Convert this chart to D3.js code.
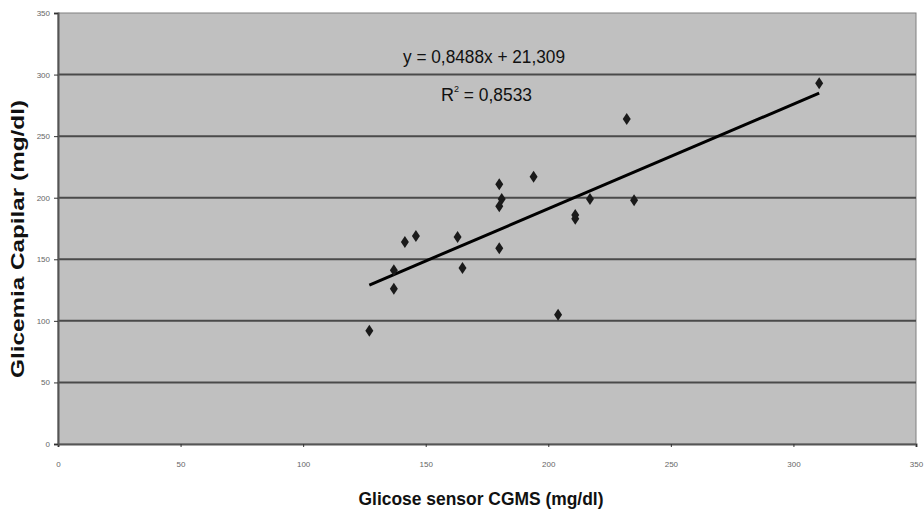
<!DOCTYPE html>
<html>
<head>
<meta charset="utf-8">
<script src="https://cdn.jsdelivr.net/npm/d3@7"></script>
<style>
  body { margin: 0; background: #fff; }
  svg { display: block; }
</style>
</head>
<body>
<svg id="chart"></svg>
<script>
// sensor CGMS vs capillary glucose (mg/dl)
const sensorValues = [127, 137, 137, 141.5, 146, 163, 165, 180, 180, 181, 180, 194, 204, 211, 211, 217, 232, 235, 310.5];
const capilarValues = [92, 126, 141, 164, 169, 168, 143, 159, 211, 199, 193, 217, 105, 183, 186, 199, 264, 198, 293];
const xTicks = [0, 50, 100, 150, 200, 250, 300, 350];
const yTicks = [0, 50, 100, 150, 200, 250, 300, 350];
const slope = 0.8488;
const intercept = 21.309;
const equationText = "y = 0,8488x + 21,309";
const r2Text = "0,8533";

const width = 924, height = 516;
const margin = { top: 13, right: 8, bottom: 72, left: 58 };

const svg = d3.select("#chart").attr("width", width).attr("height", height);

const x = d3.scaleLinear().domain([0, 350]).range([margin.left, width - margin.right]);
const y = d3.scaleLinear().domain([0, 350]).range([height - margin.bottom, margin.top]);

const font = "'Liberation Sans Narrow', 'Arial Narrow', 'Liberation Sans', sans-serif";

// plot area
svg.append("rect")
  .attr("x", x(0)).attr("y", y(350))
  .attr("width", x(350) - x(0)).attr("height", y(0) - y(350))
  .attr("fill", "#c0c0c0")
  .attr("stroke", "#808080")
  .attr("stroke-width", 1);

// gridlines
svg.append("g")
  .selectAll("line")
  .data(yTicks.filter(d => d > 0 && d < 350))
  .join("line")
  .attr("x1", x(0)).attr("x2", x(350))
  .attr("y1", d => y(d)).attr("y2", d => y(d))
  .attr("stroke", "#4a4a4a")
  .attr("stroke-width", 2);

// axes
const xAxis = svg.append("g")
  .attr("transform", `translate(0,${y(0)})`)
  .call(d3.axisBottom(x).tickValues(xTicks).tickSize(3).tickPadding(14));
const yAxis = svg.append("g")
  .attr("transform", `translate(${x(0)},0)`)
  .call(d3.axisLeft(y).tickValues(yTicks).tickSize(4).tickPadding(4));

[xAxis, yAxis].forEach(a => {
  a.select(".domain").attr("stroke", "#555").attr("stroke-width", 2);
  a.selectAll(".tick line").attr("stroke", "#333");
  a.selectAll(".tick text")
    .attr("fill", "#666")
    .style("font-family", font)
    .style("font-size", "8px");
});

// trend line
const xMin = d3.min(sensorValues), xMax = d3.max(sensorValues);
svg.append("line")
  .attr("x1", x(xMin)).attr("y1", y(slope * xMin + intercept))
  .attr("x2", x(xMax)).attr("y2", y(slope * xMax + intercept))
  .attr("stroke", "#000")
  .attr("stroke-width", 3);

// points (diamonds)
const points = sensorValues.map((v, i) => [v, capilarValues[i]]);
svg.append("g")
  .selectAll("path")
  .data(points)
  .join("path")
  .attr("transform", d => `translate(${x(d[0])},${y(d[1])})`)
  .attr("d", "M0,-6L4,0L0,6L-4,0Z")
  .attr("fill", "#1a1a1a");

// equation labels
svg.append("text")
  .attr("x", 484).attr("y", 63)
  .attr("text-anchor", "middle")
  .attr("textLength", 162)
  .attr("lengthAdjust", "spacingAndGlyphs")
  .style("font-family", font)
  .style("font-size", "18px")
  .attr("fill", "#111")
  .text(equationText);

const r2 = svg.append("text")
  .attr("x", 441).attr("y", 101)
  .style("font-family", font)
  .style("font-size", "18px")
  .attr("fill", "#111");
r2.append("tspan").text("R");
r2.append("tspan").attr("dy", -9).style("font-size", "9px").text("2");
r2.append("tspan").attr("dy", 9).attr("textLength", 73)
  .attr("lengthAdjust", "spacingAndGlyphs").text(" = " + r2Text);

// axis titles
svg.append("text")
  .attr("x", 481).attr("y", 505)
  .attr("text-anchor", "middle")
  .attr("textLength", 245)
  .attr("lengthAdjust", "spacingAndGlyphs")
  .style("font-family", font)
  .style("font-size", "19px")
  .style("font-weight", "bold")
  .attr("fill", "#111")
  .text("Glicose sensor CGMS (mg/dl)");

svg.append("text")
  .attr("transform", "translate(24,239) rotate(-90)")
  .attr("text-anchor", "middle")
  .attr("textLength", 278)
  .attr("lengthAdjust", "spacingAndGlyphs")
  .style("font-family", font)
  .style("font-size", "19px")
  .style("font-weight", "bold")
  .attr("fill", "#111")
  .text("Glicemia Capilar (mg/dl)");
</script>
</body>
</html>
